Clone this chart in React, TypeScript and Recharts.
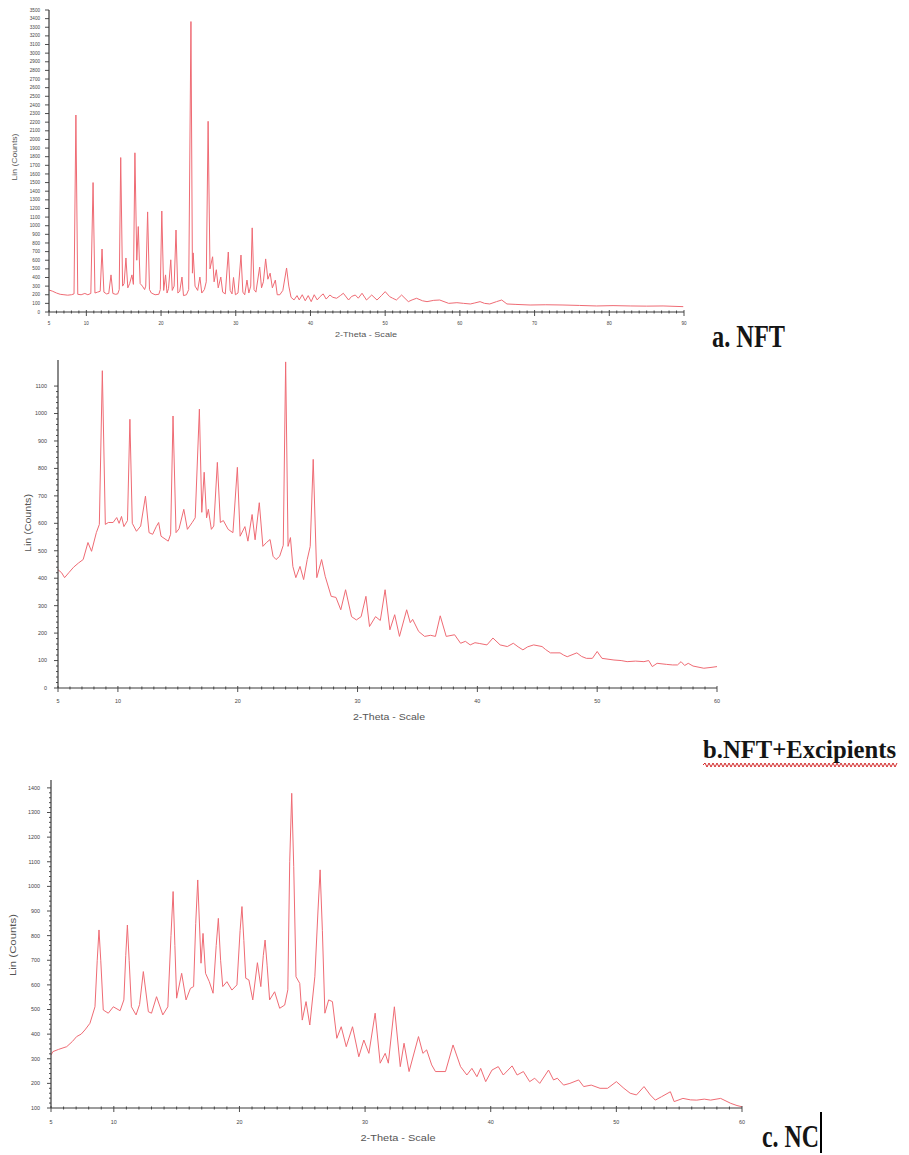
import React from 'react';
import { LineChart, Line, XAxis, YAxis } from 'recharts';

type Pt = [number, number];

// a. NFT  (2-Theta, Lin counts)
const nftPattern: Pt[] = [
  [5.0, 255], [5.5, 240], [6.0, 220], [6.5, 205], [7.0, 200], [7.5, 195], [8.0, 200], [8.35, 210],
  [8.6, 2283], [8.85, 205], [9.3, 200], [9.8, 215], [10.2, 200], [10.6, 215], [10.9, 1500], [11.15, 220],
  [11.5, 230], [11.85, 240], [12.1, 730], [12.35, 230], [12.7, 210], [13.0, 215], [13.3, 430], [13.55, 215],
  [13.9, 205], [14.2, 210], [14.4, 260], [14.6, 1790], [14.85, 300], [15.05, 330], [15.3, 626], [15.55, 280],
  [15.8, 330], [16.1, 430], [16.3, 320], [16.5, 1845], [16.75, 600], [16.95, 990], [17.2, 330], [17.5, 300],
  [17.8, 260], [17.95, 300], [18.2, 1160], [18.45, 260], [18.7, 220], [19.2, 200], [19.7, 205], [19.9, 260],
  [20.1, 1170], [20.35, 250], [20.6, 430], [20.8, 220], [21.0, 270], [21.3, 605], [21.5, 250], [21.75, 300],
  [22.0, 950], [22.25, 220], [22.5, 240], [22.8, 405], [23.0, 190], [23.4, 200], [23.7, 260], [24.0, 3366],
  [24.2, 450], [24.3, 685], [24.55, 300], [24.9, 250], [25.2, 405], [25.45, 220], [25.8, 260], [26.05, 350],
  [26.3, 2210], [26.55, 500], [26.9, 640], [27.1, 350], [27.4, 490], [27.65, 280], [28.0, 405], [28.25, 230],
  [28.6, 210], [29.0, 695], [29.25, 250], [29.5, 210], [29.7, 400], [29.95, 200], [30.3, 220], [30.7, 660],
  [30.95, 230], [31.2, 200], [31.5, 370], [31.75, 220], [32.0, 300], [32.2, 975], [32.45, 260], [32.7, 230],
  [33.2, 520], [33.45, 280], [33.7, 350], [34.0, 615], [34.3, 380], [34.6, 450], [34.9, 280], [35.3, 370],
  [35.55, 200], [35.9, 200], [36.3, 250], [36.8, 510], [37.1, 300], [37.4, 170], [37.8, 140], [38.2, 190],
  [38.5, 140], [38.9, 200], [39.3, 130], [39.7, 190], [40.1, 120], [40.5, 200], [40.9, 140], [41.3, 180],
  [41.7, 210], [42.1, 150], [42.6, 197], [43.0, 170], [43.5, 159], [44.0, 190], [44.4, 217], [45.1, 139],
  [45.5, 180], [46.0, 197], [46.4, 160], [46.9, 217], [47.5, 139], [48.2, 197], [48.9, 139], [49.5, 190],
  [50.0, 236], [50.6, 178], [51.0, 160], [51.5, 139], [52.2, 197], [53.1, 120], [53.6, 140], [54.2, 159],
  [55.0, 130], [55.6, 120], [56.5, 135], [57.3, 139], [58.5, 100], [59.6, 108], [60.5, 100], [61.4, 93],
  [62.0, 105], [62.7, 120], [63.3, 100], [64.0, 93], [64.9, 120], [65.6, 139], [66.3, 93], [67.5, 88],
  [69.4, 81], [71.5, 84], [73.8, 81], [76.0, 76], [78.3, 70], [80.5, 74], [82.8, 70], [85.0, 68],
  [87.2, 70], [89.9, 62],
];

// b. NFT + Excipients
const excipientPattern: Pt[] = [
  [5.0, 431], [5.3, 420], [5.55, 402], [5.9, 420], [6.3, 440], [6.7, 455], [7.1, 468], [7.5, 530],
  [7.8, 498], [8.2, 566], [8.45, 596], [8.7, 1156], [8.95, 596], [9.2, 603], [9.6, 603], [9.9, 621],
  [10.1, 600], [10.3, 625], [10.5, 588], [10.8, 610], [11.0, 979], [11.2, 600], [11.55, 571], [11.9, 590],
  [12.3, 699], [12.6, 566], [12.9, 560], [13.2, 588], [13.4, 603], [13.6, 553], [14.2, 535], [14.4, 560],
  [14.6, 991], [14.85, 566], [15.1, 580], [15.5, 651], [15.8, 578], [16.2, 603], [16.45, 620], [16.8, 1016],
  [17.0, 640], [17.2, 786], [17.4, 620], [17.55, 651], [17.8, 578], [18.0, 590], [18.3, 822], [18.55, 603],
  [18.8, 610], [19.2, 578], [19.6, 566], [19.97, 804], [20.2, 553], [20.6, 588], [20.85, 535], [21.2, 632],
  [21.45, 540], [21.8, 675], [22.1, 516], [22.4, 530], [22.7, 541], [22.95, 480], [23.2, 468], [23.5, 480],
  [23.8, 520], [24.0, 1188], [24.2, 516], [24.4, 548], [24.6, 443], [24.85, 402], [25.2, 443], [25.5, 395],
  [25.8, 468], [26.05, 516], [26.3, 833], [26.6, 402], [27.0, 468], [27.3, 407], [27.8, 334], [28.2, 330],
  [28.6, 285], [29.0, 358], [29.5, 260], [29.9, 248], [30.3, 260], [30.7, 334], [31.0, 224], [31.5, 260],
  [31.9, 246], [32.3, 358], [32.7, 212], [33.1, 267], [33.5, 188], [34.1, 285], [34.4, 238], [34.6, 250],
  [35.1, 206], [35.6, 188], [36.1, 192], [36.5, 188], [36.9, 263], [37.4, 188], [38.1, 194], [38.6, 163],
  [39.0, 170], [39.4, 157], [39.8, 165], [40.2, 162], [40.8, 157], [41.3, 182], [41.9, 157], [42.5, 151],
  [43.0, 163], [43.4, 150], [43.8, 139], [44.2, 150], [44.7, 157], [45.4, 151], [45.7, 140], [46.1, 128],
  [46.9, 128], [47.2, 120], [47.5, 114], [48.3, 128], [48.7, 115], [49.1, 108], [49.6, 108], [50.0, 133],
  [50.4, 108], [51.4, 102], [52.0, 100], [52.5, 96], [53.2, 98], [53.9, 96], [54.3, 100], [54.6, 78],
  [55.0, 90], [55.8, 86], [56.3, 84], [56.7, 84], [57.0, 96], [57.3, 82], [57.6, 90], [58.0, 80],
  [58.9, 72], [59.5, 75], [60.0, 78],
];

// c. NC
const ncPattern: Pt[] = [
  [5.0, 315], [5.15, 329], [5.6, 338], [6.25, 349], [6.7, 370], [7.04, 390], [7.4, 400], [7.7, 417],
  [8.1, 444], [8.5, 511], [8.68, 700], [8.82, 823], [8.96, 700], [9.16, 498], [9.56, 485], [9.96, 511],
  [10.5, 495], [10.8, 539], [10.95, 720], [11.08, 843], [11.22, 700], [11.4, 511], [11.77, 478], [12.05, 520],
  [12.35, 654], [12.75, 491], [13.0, 485], [13.4, 552], [13.9, 478], [14.3, 511], [14.55, 800], [14.72, 979],
  [14.86, 760], [15.0, 546], [15.4, 647], [15.75, 539], [16.1, 586], [16.35, 593], [16.52, 850], [16.68, 1026],
  [16.94, 688], [17.1, 809], [17.3, 647], [17.6, 613], [17.9, 566], [18.15, 760], [18.32, 870], [18.5, 700],
  [18.67, 593], [19.0, 613], [19.4, 579], [19.8, 600], [20.05, 820], [20.2, 918], [20.35, 780], [20.5, 627],
  [20.75, 620], [21.06, 539], [21.43, 690], [21.7, 593], [21.9, 720], [22.04, 782], [22.2, 680], [22.4, 539],
  [22.8, 572], [23.2, 505], [23.6, 518], [23.85, 580], [24.0, 1100], [24.16, 1378], [24.32, 1080], [24.5, 633],
  [24.8, 606], [25.0, 457], [25.3, 532], [25.6, 437], [26.0, 633], [26.25, 900], [26.42, 1067], [26.6, 820],
  [26.8, 485], [27.1, 539], [27.4, 532], [27.75, 383], [28.1, 430], [28.5, 349], [29.0, 430], [29.5, 308],
  [29.9, 376], [30.3, 322], [30.8, 485], [31.2, 282], [31.6, 322], [31.85, 282], [32.33, 511], [32.8, 268],
  [33.1, 363], [33.5, 248], [34.25, 390], [34.6, 322], [34.9, 336], [35.3, 275], [35.6, 248], [36.4, 248],
  [37.0, 356], [37.6, 268], [38.1, 234], [38.5, 261], [38.9, 227], [39.2, 261], [39.6, 207], [40.1, 254],
  [40.6, 268], [41.0, 234], [41.7, 271], [42.1, 234], [42.6, 248], [43.1, 207], [43.5, 221], [43.9, 200],
  [44.6, 254], [45.0, 214], [45.3, 221], [45.8, 193], [46.3, 200], [47.0, 214], [47.4, 187], [48.0, 193],
  [48.7, 180], [49.3, 180], [50.0, 207], [50.6, 180], [51.1, 160], [51.6, 153], [52.2, 187], [52.7, 153],
  [53.1, 132], [53.6, 146], [54.3, 166], [54.6, 126], [55.3, 139], [55.9, 133], [56.4, 132], [57.0, 136],
  [57.5, 132], [58.3, 139], [59.1, 119], [59.6, 110], [60.0, 105],
];

const nftXLabels = [5, 10, 20, 30, 40, 50, 60, 70, 80, 90];
const nftYLabels = [
  0, 100, 200, 300, 400, 500, 600, 700, 800, 900, 1000, 1100, 1200, 1300, 1400, 1500, 1600, 1700,
  1800, 1900, 2000, 2100, 2200, 2300, 2400, 2500, 2600, 2700, 2800, 2900, 3000, 3100, 3200, 3300, 3400, 3500,
];
const excXLabels = [5, 10, 20, 30, 40, 50, 60];
const excYLabels = [0, 100, 200, 300, 400, 500, 600, 700, 800, 900, 1000, 1100];
const ncXLabels = [5, 10, 20, 30, 40, 50, 60];
const ncYLabels = [100, 200, 300, 400, 500, 600, 700, 800, 900, 1000, 1100, 1200, 1300, 1400];

const panelNames = ['a. NFT', 'b.NFT+Excipients', 'c. NC'];
const xTitle = '2-Theta - Scale';
const yTitle = 'Lin (Counts)';

const LINE = '#ef6b74';
const AXIS = '#3a3a3a';
const SANS = '"Liberation Sans", Arial, sans-serif';
const SERIF = '"Liberation Serif", "Times New Roman", serif';

function steps(from: number, to: number, step: number): number[] {
  const out: number[] = [];
  for (let v = from; v <= to + 1e-9; v += step) out.push(Math.round(v * 1000) / 1000);
  return out;
}

type PanelProps = {
  pattern: Pt[];
  left: number;
  top: number;
  width: number;
  height: number;
  margin: { top: number; right: number; left: number; bottom: number };
  yWidth: number;
  xDomain: [number, number];
  yDomain: [number, number];
  xLabels: number[];
  yLabels: number[];
  xMinor: number;
  yMinor: number;
  tickFont: number;
  xLabelDy: number;
  yLabelDx: number;
};

function Panel(p: PanelProps) {
  const data = p.pattern.map(([x, y]) => ({ x, y }));
  const xTicks = Array.from(new Set([...steps(p.xDomain[0], p.xDomain[1], p.xMinor), ...p.xLabels])).sort((a, b) => a - b);
  const yTicks = Array.from(new Set([...steps(p.yDomain[0], p.yLabels[p.yLabels.length - 1], p.yMinor), ...p.yLabels])).sort((a, b) => a - b);

  const xTick = (props: any) => {
    const { x, y, payload } = props;
    const v = payload.value;
    const major = p.xLabels.includes(v);
    return (
      <g>
        <line x1={x} x2={x} y1={y - (major ? 2 : 1.5)} y2={y + (major ? 4 : 1.5)} stroke={AXIS} strokeWidth={0.9} />
        {major && (
          <text x={x} y={y + p.xLabelDy} textAnchor="middle" fontSize={p.tickFont} fill="#444" fontFamily={SANS}>
            {v}
          </text>
        )}
      </g>
    );
  };

  const yTick = (props: any) => {
    const { x, y, payload } = props;
    const v = payload.value;
    const major = p.yLabels.includes(v);
    return (
      <g>
        <line x1={x - (major ? 4 : 2)} x2={x} y1={y} y2={y} stroke={AXIS} strokeWidth={0.9} />
        {major && (
          <text x={x - p.yLabelDx} y={y + p.tickFont * 0.35} textAnchor="end" fontSize={p.tickFont} fill="#444" fontFamily={SANS}>
            {v}
          </text>
        )}
      </g>
    );
  };

  return (
    <div style={{ position: 'absolute', left: p.left, top: p.top, width: p.width, height: p.height }}>
      <LineChart width={p.width} height={p.height} data={data} margin={p.margin}>
        <XAxis
          dataKey="x"
          type="number"
          domain={p.xDomain}
          ticks={xTicks}
          interval={0}
          allowDataOverflow
          height={30}
          tickSize={0}
          tickMargin={0}
          tickLine={false}
          axisLine={{ stroke: AXIS, strokeWidth: 1 }}
          tick={xTick}
        />
        <YAxis
          type="number"
          domain={p.yDomain}
          ticks={yTicks}
          interval={0}
          allowDataOverflow
          width={p.yWidth}
          tickSize={0}
          tickMargin={0}
          tickLine={false}
          axisLine={{ stroke: AXIS, strokeWidth: 1.2 }}
          tick={yTick}
        />
        <Line
          type="linear"
          dataKey="y"
          stroke={LINE}
          strokeWidth={1}
          dot={false}
          isAnimationActive={false}
        />
      </LineChart>
    </div>
  );
}

function wavy(x0: number, x1: number, y: number, period: number, amp: number): string {
  let d = `M ${x0} ${y}`;
  let up = true;
  for (let x = x0 + period / 2; x <= x1; x += period / 2) {
    d += ` L ${x} ${up ? y - amp : y + amp}`;
    up = !up;
  }
  return d;
}

export default function App() {
  return (
    <div style={{ position: 'absolute', left: 0, top: 0, width: 909, height: 1155, background: '#fff', overflow: 'hidden' }}>
      <Panel
        pattern={nftPattern}
        left={0}
        top={0}
        width={700}
        height={345}
        margin={{ top: 10, right: 16, left: 0, bottom: 3 }}
        yWidth={49}
        xDomain={[5, 90]}
        yDomain={[0, 3500]}
        xLabels={nftXLabels}
        yLabels={nftYLabels}
        xMinor={1}
        yMinor={100}
        tickFont={4.6}
        xLabelDy={13}
        yLabelDx={9}
      />
      <Panel
        pattern={excipientPattern}
        left={0}
        top={350}
        width={730}
        height={370}
        margin={{ top: 10, right: 13, left: 0, bottom: 2 }}
        yWidth={58}
        xDomain={[5, 60]}
        yDomain={[0, 1195]}
        xLabels={excXLabels}
        yLabels={excYLabels}
        xMinor={1}
        yMinor={20}
        tickFont={5.4}
        xLabelDy={15}
        yLabelDx={11}
      />
      <Panel
        pattern={ncPattern}
        left={0}
        top={770}
        width={760}
        height={370}
        margin={{ top: 10, right: 18, left: 0, bottom: 2 }}
        yWidth={51}
        xDomain={[5, 60]}
        yDomain={[100, 1432]}
        xLabels={ncXLabels}
        yLabels={ncYLabels}
        xMinor={1}
        yMinor={20}
        tickFont={5.4}
        xLabelDy={16}
        yLabelDx={11}
      />
      <svg width={909} height={1155} style={{ position: 'absolute', left: 0, top: 0, pointerEvents: 'none' }}>
        {/* axis titles */}
        <text x={15} y={157} transform="rotate(-90 15 157)" textAnchor="middle" dominantBaseline="middle" fontSize={7} fill="#555" fontFamily={SANS} textLength={47} lengthAdjust="spacingAndGlyphs">{yTitle}</text>
        <text x={366} y={337} textAnchor="middle" fontSize={8} fill="#555" fontFamily={SANS} textLength={62} lengthAdjust="spacingAndGlyphs">{xTitle}</text>

        <text x={29} y={523} transform="rotate(-90 29 523)" textAnchor="middle" dominantBaseline="middle" fontSize={8.5} fill="#555" fontFamily={SANS} textLength={58} lengthAdjust="spacingAndGlyphs">{yTitle}</text>
        <text x={389} y={720} textAnchor="middle" fontSize={9.5} fill="#555" fontFamily={SANS} textLength={72} lengthAdjust="spacingAndGlyphs">{xTitle}</text>

        <text x={14} y={945} transform="rotate(-90 14 945)" textAnchor="middle" dominantBaseline="middle" fontSize={9} fill="#555" fontFamily={SANS} textLength={62} lengthAdjust="spacingAndGlyphs">{yTitle}</text>
        <text x={398} y={1141} textAnchor="middle" fontSize={9.5} fill="#555" fontFamily={SANS} textLength={75} lengthAdjust="spacingAndGlyphs">{xTitle}</text>

        {/* panel captions */}
        <text x={712} y={347} fontSize={31} fontWeight="bold" fill="#151515" fontFamily={SERIF} textLength={73} lengthAdjust="spacingAndGlyphs">{panelNames[0]}</text>
        <text x={703} y={758} fontSize={26} fontWeight="bold" fill="#151515" fontFamily={SERIF} textLength={193} lengthAdjust="spacingAndGlyphs">{panelNames[1]}</text>
        <path d={wavy(703, 897, 765, 4, 2)} stroke="#d42a2a" strokeWidth={1} fill="none" />
        <text x={762} y={1147} fontSize={32} fontWeight="bold" fill="#151515" fontFamily={SERIF} textLength={57} lengthAdjust="spacingAndGlyphs">{panelNames[2]}</text>
        <rect x={820} y={1112} width={2} height={41} fill="#000" />
      </svg>
    </div>
  );
}
